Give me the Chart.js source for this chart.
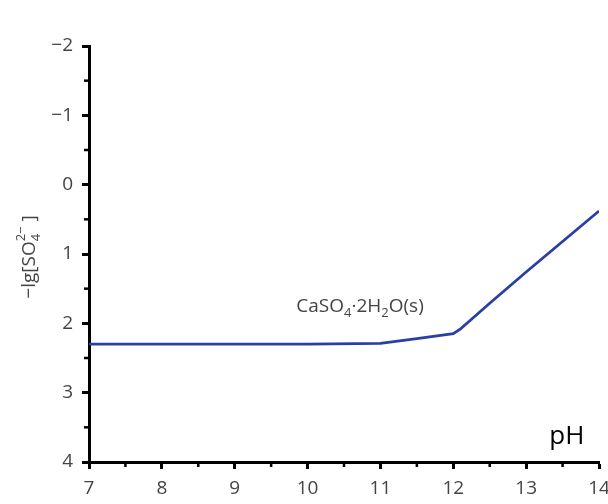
<!DOCTYPE html>
<html>
<head>
<meta charset="utf-8">
<script src="https://cdn.jsdelivr.net/npm/chart.js@4.4.0/dist/chart.umd.min.js"></script>
<style>
  html, body { margin: 0; padding: 0; background: #fff; }
  #wrap { width: 608px; height: 504px; position: relative; }
</style>
</head>
<body>
<div id="wrap"><canvas id="c"></canvas></div>
<script>
// -lg[SO4 2-] vs pH, CaSO4·2H2O(s) solubility line
const pH     = [7, 8, 9, 10, 11, 11.5, 12, 12.1, 12.25, 12.5, 13, 13.5, 14];
const lgSO4  = [2.30, 2.30, 2.30, 2.30, 2.29, 2.22, 2.15, 2.08, 1.94, 1.71, 1.26, 0.82, 0.38];
const xTicks = [7, 8, 9, 10, 11, 12, 13, 14];
const yTicks = [-2, -1, 0, 1, 2, 3, 4];

const FONT = '"Open Sans", "Noto Sans", sans-serif';
const GRAY = '#444';

// text runs with sub/superscripts; parts = [{t, dy, size, stack}]
function richWidth(ctx, parts) {
  let w = 0, prev = 0;
  parts.forEach(p => {
    ctx.font = `${p.size}px ${FONT}`;
    const pw = ctx.measureText(p.t).width;
    w += p.stack ? Math.max(0, pw - prev) : pw;
    prev = pw;
  });
  return w;
}
function drawRich(ctx, parts, x, y) {
  let cx = x, prevX = x;
  parts.forEach(p => {
    ctx.font = `${p.size}px ${FONT}`;
    const pw = ctx.measureText(p.t).width;
    const sx = p.stack ? prevX : cx;
    ctx.fillText(p.t, sx, y + (p.dy || 0));
    if (p.stack) cx = Math.max(cx, sx + pw);
    else { prevX = sx; cx = sx + pw; }
  });
}

const labelParts = [
  { t: 'CaSO', size: 19 }, { t: '4', size: 13, dy: 5 }, { t: '·2H', size: 19 },
  { t: '2', size: 13, dy: 5 }, { t: 'O(s)', size: 19 },
];
const yTitleParts = [
  { t: '−lg[SO', size: 19 }, { t: '4', size: 13, dy: 5 },
  { t: '2−', size: 13, dy: -10, stack: true }, { t: ' ]', size: 19 },
];

const decor = {
  id: 'decor',
  afterDraw(chart) {
    const { ctx, scales: { x, y } } = chart;
    ctx.save();
    // minor ticks
    ctx.strokeStyle = '#000';
    ctx.lineWidth = 2.5;
    for (let v = 7.5; v < 14; v += 1) {
      const px = x.getPixelForValue(v);
      ctx.beginPath(); ctx.moveTo(px, y.bottom); ctx.lineTo(px, y.bottom + 5); ctx.stroke();
    }
    for (let v = -1.5; v < 4; v += 1) {
      const py = y.getPixelForValue(v);
      ctx.beginPath(); ctx.moveTo(x.left, py); ctx.lineTo(x.left - 5, py); ctx.stroke();
    }
    // species label
    ctx.fillStyle = GRAY;
    ctx.textBaseline = 'alphabetic';
    ctx.textAlign = 'left';
    const lx = x.getPixelForValue(10.72), ly = y.getPixelForValue(1.83);
    drawRich(ctx, labelParts, lx - richWidth(ctx, labelParts) / 2, ly);
    // pH axis label
    ctx.fillStyle = '#000';
    ctx.font = `26px ${FONT}`;
    ctx.textAlign = 'right';
    ctx.fillText('pH', x.getPixelForValue(13.8), y.getPixelForValue(3.74));
    // y title
    ctx.textAlign = 'left';
    ctx.fillStyle = GRAY;
    ctx.translate(35, 257);
    ctx.rotate(-Math.PI / 2);
    drawRich(ctx, yTitleParts, -richWidth(ctx, yTitleParts) / 2, 0);
    ctx.restore();
  }
};

new Chart(document.getElementById('c'), {
  type: 'scatter',
  data: {
    datasets: [{
      data: pH.map((v, i) => ({ x: v, y: lgSO4[i] })),
      showLine: true,
      borderColor: '#2a3fa3',
      borderWidth: 2.8,
      pointRadius: 0,
      tension: 0,
    }]
  },
  options: {
    responsive: true,
    maintainAspectRatio: false,
    animation: false,
    layout: { padding: { top: 46, right: 9, left: 0, bottom: 0 } },
    plugins: { legend: { display: false }, tooltip: { enabled: false } },
    scales: {
      x: {
        type: 'linear', min: 7, max: 14,
        afterBuildTicks: s => { s.ticks = xTicks.map(v => ({ value: v })); },
        afterFit: s => { s.height = 42; s.paddingLeft = 0; s.paddingRight = 0; },
        border: { color: '#000', width: 3 },
        grid: { drawOnChartArea: false, drawTicks: true, tickLength: 7, tickColor: '#000', tickWidth: 3 },
        ticks: { color: GRAY, font: { family: FONT, size: 19 }, padding: 8, maxRotation: 0 },
      },
      y: {
        type: 'linear', min: -2, max: 4, reverse: true,
        afterBuildTicks: s => { s.ticks = yTicks.map(v => ({ value: v })); },
        afterFit: s => { s.width = 89; s.paddingTop = 0; s.paddingBottom = 0; },
        border: { color: '#000', width: 3 },
        grid: { drawOnChartArea: false, drawTicks: true, tickLength: 7, tickColor: '#000', tickWidth: 3 },
        ticks: {
          color: GRAY, font: { family: FONT, size: 19 }, padding: 9,
          callback: v => v < 0 ? '−' + Math.abs(v) : String(v),
        },
      },
    },
  },
  plugins: [decor],
});
</script>
</body>
</html>
